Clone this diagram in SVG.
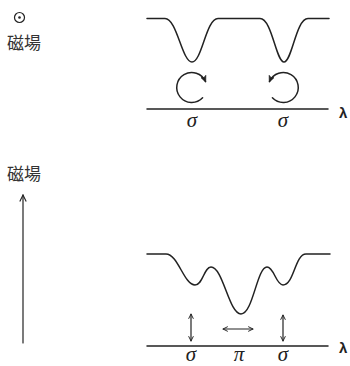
<svg xmlns="http://www.w3.org/2000/svg" width="350" height="366" viewBox="0 0 350 366">
<defs>
<style>
.ln{fill:none;stroke:#222;stroke-width:1.5;stroke-linecap:round;stroke-linejoin:round}
.th{fill:none;stroke:#222;stroke-width:1.2;stroke-linecap:round}
.cjk{font-family:"Noto Sans CJK JP","Noto Sans CJK SC",sans-serif;font-size:17px;fill:#333}
.gr{font-family:"Liberation Serif",serif;font-style:italic;font-size:21px;fill:#222;text-anchor:middle}
.lam{font-family:"Liberation Sans",sans-serif;font-weight:bold;font-size:15px;fill:#222}
</style>
<marker id="ah" viewBox="0 0 10 10" refX="9" refY="5" markerWidth="6" markerHeight="6" markerUnits="userSpaceOnUse" orient="auto-start-reverse">
<path d="M1,1 L9,5 L1,9" fill="none" stroke="#222" stroke-width="1.6"/>
</marker>
<marker id="ahc" viewBox="0 0 10 10" refX="8" refY="5" markerWidth="7" markerHeight="7" markerUnits="userSpaceOnUse" orient="auto">
<path d="M0,1 L9,5 L0,9 L2,5 Z" fill="#222" stroke="#222" stroke-width="0.8" stroke-linejoin="round"/>
</marker>
<marker id="ahv" viewBox="0 0 10 10" refX="9" refY="5" markerWidth="8" markerHeight="9" markerUnits="userSpaceOnUse" orient="auto">
<path d="M1,1 L9,5 L1,9" fill="none" stroke="#222" stroke-width="1.4"/>
</marker>
</defs>

<g id="field-top">
<circle cx="19.5" cy="17.5" r="5" class="th"/>
<circle cx="19.5" cy="17.5" r="1.3" fill="#222"/>
<text x="7" y="49" class="cjk">磁場</text>
</g>

<g id="spectrum-top">
<path class="ln" d="M147,18.5 L165,18.5 C177,18.5 182,62 192,62 C202,62 206,18.5 218,18.5 L260,18.5 C272,18.5 276,62 284,62 C292,62 296,18.5 308,18.5 L329,18.5"/>
<line class="ln" x1="147" y1="109" x2="328" y2="109"/>
<text x="339" y="118" class="lam">λ</text>
<text x="192" y="127" class="gr">σ</text>
<text x="283" y="127" class="gr">σ</text>
</g>

<g id="field-bottom">
<text x="7" y="180" class="cjk">磁場</text>
</g>

<g id="spectrum-bottom">
<path class="ln" d="M147,254 L166,254 C178,254 184,285 195,285 C203,285 204,267 211,267 C223,267 229,314 241,314 C253,314 257,267 267,267 C274,267 276,285 283,285 C294,285 295,254 306,254 L330,254"/>
<line class="ln" x1="147" y1="346" x2="328" y2="346"/>
<text x="339" y="353" class="lam">λ</text>
<text x="191" y="361" class="gr">σ</text>
<text x="239" y="361" class="gr">π</text>
<text x="283" y="361" class="gr">σ</text>
</g>

<g id="connectors">
<path class="ln" d="M202.6,97.8 A15,15 0 1 1 205.5,81.5" marker-end="url(#ahc)"/>
<path class="ln" d="M272.4,97.8 A15,15 0 1 0 269.5,81.5" marker-end="url(#ahc)"/>
<line class="th" x1="23" y1="343" x2="23" y2="195" marker-end="url(#ahv)"/>
<line class="th" x1="191" y1="314" x2="191" y2="341" marker-start="url(#ah)" marker-end="url(#ah)"/>
<line class="th" x1="283" y1="315" x2="283" y2="341" marker-start="url(#ah)" marker-end="url(#ah)"/>
<line class="th" x1="223" y1="329" x2="253" y2="329" marker-start="url(#ah)" marker-end="url(#ah)"/>
</g>
</svg>
